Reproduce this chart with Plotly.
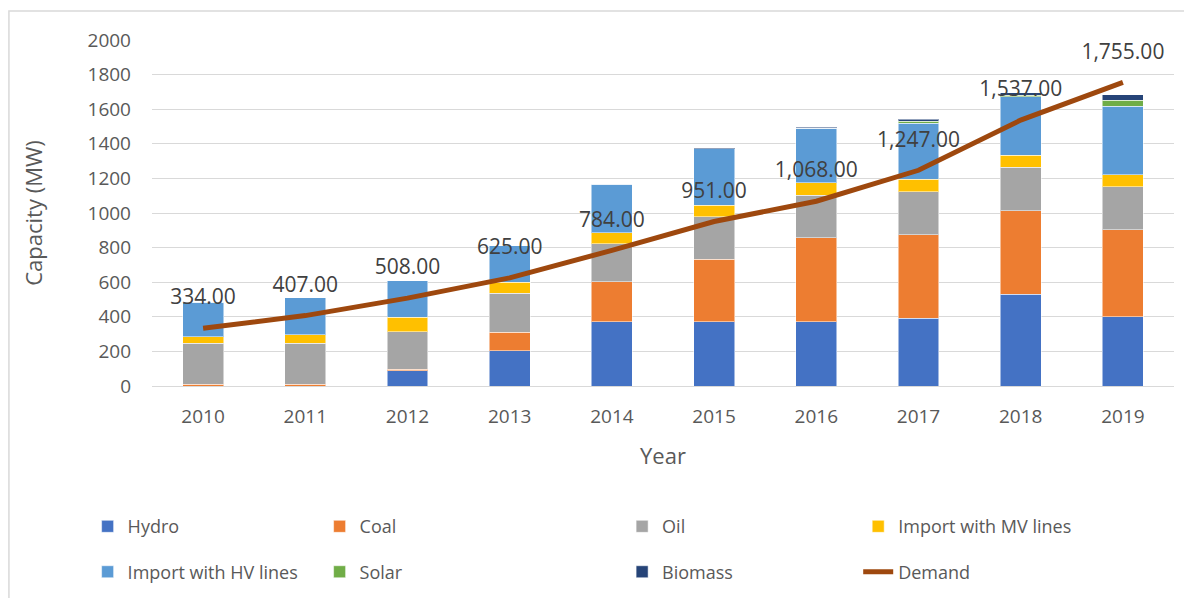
import plotly.graph_objects as go

years = ["2010", "2011", "2012", "2013", "2014", "2015", "2016", "2017", "2018", "2019"]
hydro = [0, 0, 88, 204, 372, 372, 372, 391, 530, 399]
coal = [10, 10, 9, 106, 231, 360, 485, 482, 483, 503]
oil = [237, 237, 217, 226, 218, 247, 245, 250, 251, 250]
import_mv = [38, 48, 83, 63, 65, 67, 73, 71, 69, 68]
import_hv = [199, 215, 210, 212, 280, 324, 316, 324, 339, 398]
solar = [0, 0, 0, 0, 0, 0, 0, 12, 10, 35]
biomass = [0, 0, 0, 0, 0, 3, 6, 13, 13, 31]
demand = [334, 407, 508, 625, 784, 951, 1068, 1247, 1537, 1755]

FONT = "Open Sans"
TEXT = "#595959"

series = [
    ("Hydro", hydro, "#4472C4", "legend"),
    ("Coal", coal, "#ED7D31", "legend2"),
    ("Oil", oil, "#A5A5A5", "legend3"),
    ("Import with MV lines", import_mv, "#FFC000", "legend4"),
    ("Import with HV lines", import_hv, "#5B9BD5", "legend"),
    ("Solar", solar, "#70AD47", "legend2"),
    ("Biomass", biomass, "#264478", "legend3"),
]

fig = go.Figure()
for name, vals, color, leg in series:
    fig.add_trace(go.Bar(
        x=years, y=vals, name=name, legend=leg, legendgroup=name,
        marker=dict(color=color, line=dict(color="rgba(255,255,255,0.5)", width=1)),
    ))

# invisible markers only push the value labels up like Excel does
fig.add_trace(go.Scatter(
    x=years, y=demand, name="Demand", legend="legend4", legendgroup="Demand",
    mode="lines+markers+text",
    line=dict(color="#9E480E", width=5),
    marker=dict(size=28, color="rgba(0,0,0,0)"),
    texttemplate="%{y:,.2f}", textposition="top center",
    textfont=dict(family=FONT, size=21, color="#404040"),
    cliponaxis=False,
))

# page body adds 8px, so the figure is 1184x590 and plot sits at x 144..1166, y 32..378
legend_base = dict(
    orientation="v", yanchor="top", y=-0.353, xanchor="left",
    font=dict(family=FONT, size=18, color=TEXT),
    tracegroupgap=19, bgcolor="rgba(0,0,0,0)",
)

fig.update_layout(
    barmode="stack",
    bargap=0.6,
    width=1184,
    height=590,
    margin=dict(l=144, r=18, t=32, b=212, autoexpand=False),
    paper_bgcolor="white",
    plot_bgcolor="white",
    font=dict(family=FONT, color=TEXT),
    legend=dict(legend_base, x=-0.063),
    legend2=dict(legend_base, x=0.164),
    legend3=dict(legend_base, x=0.46),
    legend4=dict(legend_base, x=0.691),
    shapes=[dict(
        type="rect", xref="paper", yref="paper",
        x0=-0.14, x1=1.03, y0=-0.65, y1=1.084,
        line=dict(color="#D9D9D9", width=1.5), layer="below",
    )],
)

fig.update_xaxes(
    type="category", automargin=False, range=[-0.5, len(years) - 0.5],
    tickfont=dict(family=FONT, size=19, color=TEXT),
    ticklabelstandoff=13,
    title=dict(text="Year", font=dict(family=FONT, size=22, color=TEXT), standoff=20),
    showline=True, linecolor="#D9D9D9", linewidth=1,
    showgrid=False, ticks="",
)
fig.update_yaxes(
    range=[0, 2000], dtick=200, automargin=False,
    tickfont=dict(family=FONT, size=19, color=TEXT),
    ticklabelstandoff=20,
    title=dict(text="Capacity (MW)", font=dict(family=FONT, size=22, color=TEXT), standoff=38),
    gridcolor="#D9D9D9", gridwidth=1, zeroline=False, ticks="",
)

fig.write_html("out.html")
